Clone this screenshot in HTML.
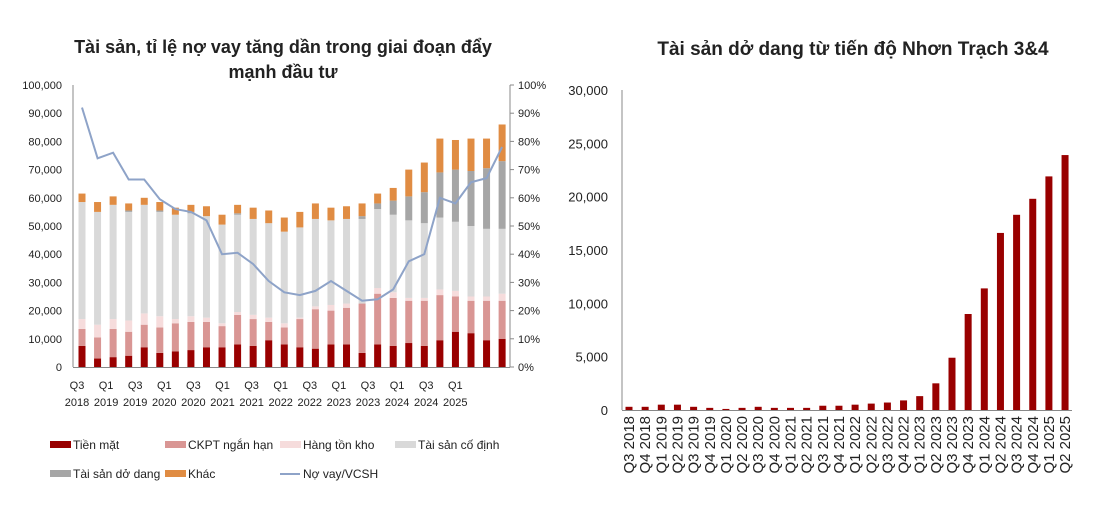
<!DOCTYPE html>
<html><head><meta charset="utf-8"><style>
body{margin:0;background:#fff;width:1107px;height:523px;overflow:hidden;font-family:"Liberation Sans",sans-serif}
</style></head><body>
<svg id="s" width="1107" height="523" xmlns="http://www.w3.org/2000/svg" font-family="Liberation Sans, sans-serif"></svg>
<script>
const s=document.getElementById('s');let h='';
function t(x,y,str,o){o=o||{};h+=`<text x="${x}" y="${y}" font-size="${o.fs||11}" fill="#222" text-anchor="${o.a||'start'}" ${o.b?'font-weight="bold"':''} ${o.tr?`transform="${o.tr}"`:''}>${str}</text>`;}
function r(x,y,w,hh,c){h+=`<rect x="${x}" y="${y}" width="${w}" height="${hh}" fill="${c}"/>`;}
// Left chart
t(283,53,'Tài sản, tỉ lệ nợ vay tăng dần trong giai đoạn đẩy',{fs:18,b:1,a:'middle'});
t(283,78,'mạnh đầu tư',{fs:18,b:1,a:'middle'});
const L0=367,Lpx=2.82;
h+=`<line x1="73" y1="85" x2="73" y2="367" stroke="#888"/><line x1="73" y1="367.5" x2="510" y2="367.5" stroke="#888"/><line x1="510" y1="85" x2="510" y2="367" stroke="#888"/>`;
for(let i=0;i<=10;i++){const y=L0-i*28.2;t(62,y+4,i==0?'0':(i*10)+',000',{a:'end'});t(518,y+4,(i*10)+'%');h+=`<line x1="510" y1="${y}" x2="514" y2="${y}" stroke="#888"/>`;}
const D=[[7.5,13.5,17,58.5,58.5,61.5],[3,10.5,15,55,55,58.5],[3.5,13.5,17,57.5,57.5,60.5],[4,12.5,16.5,55,55.5,58],[7,15,19,57.5,57.5,60],[5,14,18,55,55.5,58.5],[5.5,15.5,17,54,54,56.5],[6,16,18,54.5,55,57.5],[7,16,17.5,53.5,53.5,57],[7,14.5,15.5,50.5,50.5,54],[8,18.5,19.5,54,54.5,57.5],[7.5,17,18.5,52.5,52.5,56.5],[9.5,16,17.5,51,51,55.5],[8,14,15.5,48,48,53],[7,17,17.5,49.5,49.5,55],[6.5,20.5,21.5,52.5,52.5,58],[8,20,22,52,52,56.5],[8,21,22.5,52.5,52.5,57],[5,22.5,22.5,52.5,53.5,58],[8,26,28,56,58,61.5],[7.5,24.5,26.5,54,59,63.5],[8.5,23.5,24.5,52,60.5,70],[7.5,23.5,24.5,51,62,72.5],[9.5,25.5,27.5,53,69,81],[12.5,25,27,51.5,70,80.5],[12,23.5,25,50,69.5,81],[9.5,23.5,25,49,70.5,81],[10,23.5,26,49,73,86]];
const C=['#990000','#d99694','#f6dcdc','#d9d9d9','#a6a6a6','#e08c43'];
const P=[92,74,76,66.5,66.5,59.5,56,55,52,40,40.5,36.5,30.5,26.5,25.5,27,30.5,27,23.5,24,27.5,37.5,40,60,58,65.5,67,78];
let pts=[];
D.forEach((d,i)=>{const cx=82+i*15.56;let prev=0;d.forEach((v,k)=>{if(v>prev){r(cx-3.5,L0-v*Lpx,7,(v-prev)*Lpx,C[k]);}prev=v;});pts.push(cx.toFixed(1)+','+(L0-P[i]*2.82).toFixed(1));});
h+=`<polyline points="${pts.join(' ')}" fill="none" stroke="#8ea3c8" stroke-width="2"/>`;
const lab=['Q3|2018','Q1|2019','Q3|2019','Q1|2020','Q3|2020','Q1|2021','Q3|2021','Q1|2022','Q3|2022','Q1|2023','Q3|2023','Q1|2024','Q3|2024','Q1|2025'];
lab.forEach((l,i)=>{const x=77+i*29.1;const p=l.split('|');t(x,389,p[0],{a:'middle'});t(x,406,p[1],{a:'middle'});});
const lg=[[50,445,C[0],'Tiền mặt'],[165,445,C[1],'CKPT ngắn hạn'],[280,445,C[2],'Hàng tồn kho'],[395,445,C[3],'Tài sản cố định'],[50,474,C[4],'Tài sản dở dang'],[165,474,C[5],'Khác']];
lg.forEach(g=>{r(g[0],g[1]-4,21,7,g[2]);t(g[0]+23,g[1]+4,g[3],{fs:12});});
h+=`<line x1="280" y1="474" x2="300" y2="474" stroke="#8ea3c8" stroke-width="2"/>`;t(303,478,'Nợ vay/VCSH',{fs:12});
// Right chart
t(853,55,'Tài sản dở dang từ tiến độ Nhơn Trạch 3&amp;4',{fs:19,b:1,a:'middle'});
const R0=410,Rpx=320/30000;
h+=`<line x1="622" y1="90" x2="622" y2="410" stroke="#888"/><line x1="622" y1="410.5" x2="1072" y2="410.5" stroke="#888"/>`;
for(let i=0;i<=6;i++){const y=R0-i*5000*Rpx;t(608,y+5,i==0?'0':(i*5)+',000',{a:'end',fs:13});}
const V=[300,300,500,500,300,200,100,200,300,200,200,200,400,400,500,600,700,900,1300,2500,4900,9000,11400,16600,18300,19800,21900,23900];
const RL=['Q3 2018','Q4 2018','Q1 2019','Q2 2019','Q3 2019','Q4 2019','Q1 2020','Q2 2020','Q3 2020','Q4 2020','Q1 2021','Q2 2021','Q3 2021','Q4 2021','Q1 2022','Q2 2022','Q3 2022','Q4 2022','Q1 2023','Q2 2023','Q3 2023','Q4 2023','Q1 2024','Q2 2024','Q3 2024','Q4 2024','Q1 2025','Q2 2025'];
V.forEach((v,i)=>{const cx=629+i*16.15;r(cx-3.5,R0-v*Rpx,7,v*Rpx,'#990000');t(cx+5,416,RL[i],{a:'end',fs:15,tr:`rotate(-90 ${cx+5} 416)`});});
s.innerHTML=h;
</script>
</body></html>
